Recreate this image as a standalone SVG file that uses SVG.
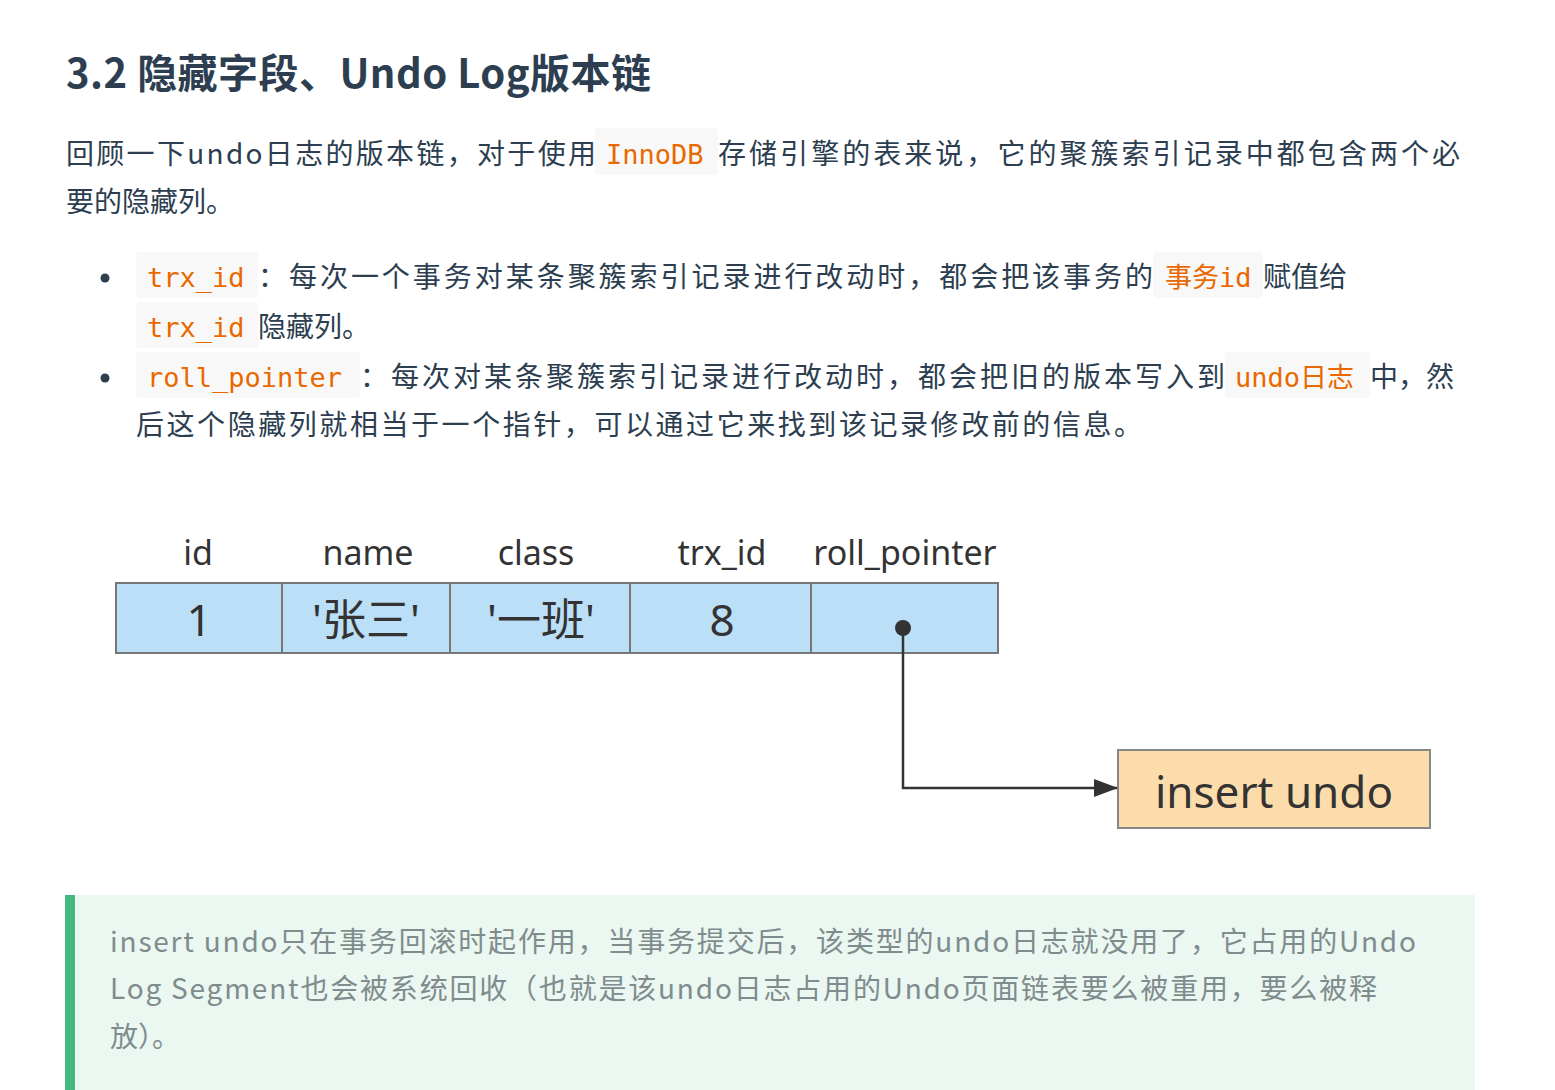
<svg xmlns="http://www.w3.org/2000/svg" width="1555" height="1090" viewBox="0 0 1555 1090">
<style>
.t{font-family:"Noto Sans CJK SC","Noto Sans",sans-serif;font-size:28px;fill:#2c3e50}
.h{font-family:"Noto Sans CJK SC","Noto Sans",sans-serif;font-size:40px;font-weight:bold;fill:#2c3e50}
.c{font-family:"DejaVu Sans Mono","Noto Sans CJK SC",monospace;font-size:27px;fill:#e96900}
.cb{fill:#f8f8f8}
.q{font-family:"Noto Sans CJK SC","Noto Sans",sans-serif;font-size:28px;fill:#7f8c8d}
.th{font-family:"Noto Sans","Noto Sans CJK SC",sans-serif;font-size:34px;fill:#333;text-anchor:middle}
.tv{font-family:"Noto Sans","Noto Sans CJK SC",sans-serif;font-size:44px;fill:#333;text-anchor:middle}
.cell{fill:#bcdff8;stroke:#777;stroke-width:2}
</style>
<defs><marker id="ah" markerWidth="24" markerHeight="20" refX="23" refY="10" orient="auto" markerUnits="userSpaceOnUse" viewBox="0 0 24 20"><path d="M0,1L24,10L0,19z" fill="#333"/></marker></defs>
<rect width="1555" height="1090" fill="#fff"/>
<text class="h" x="66" y="88" textLength="585">3.2 隐藏字段、Undo Log版本链</text>
<rect class="cb" x="595" y="128" width="123" height="47" rx="4"/>
<text class="t" x="66" y="164" textLength="530">回顾一下undo日志的版本链，对于使用</text>
<text class="c" x="606" y="164">InnoDB</text>
<text class="t" x="718" y="164" textLength="742">存储引擎的表来说，它的聚簇索引记录中都包含两个必</text>
<text class="t" x="66" y="212">要的隐藏列。</text>
<circle cx="105" cy="278" r="4.5" fill="#2c3e50"/>
<circle cx="105" cy="378" r="4.5" fill="#2c3e50"/>
<rect class="cb" x="136" y="252" width="122" height="46" rx="4"/>
<text class="c" x="147" y="287">trx_id</text>
<text class="t" x="258" y="287" textLength="895">：每次一个事务对某条聚簇索引记录进行改动时，都会把该事务的</text>
<rect class="cb" x="1153" y="252" width="110" height="46" rx="4"/>
<text class="c" x="1165" y="287">事务id</text>
<text class="t" x="1263" y="287">赋值给</text>
<rect class="cb" x="136" y="302" width="122" height="46" rx="4"/>
<text class="c" x="147" y="337">trx_id</text>
<text class="t" x="258" y="337">隐藏列。</text>
<rect class="cb" x="136" y="352" width="224" height="46" rx="4"/>
<text class="c" x="147" y="387">roll_pointer</text>
<text class="t" x="360" y="387" textLength="865">：每次对某条聚簇索引记录进行改动时，都会把旧的版本写入到</text>
<rect class="cb" x="1225" y="352" width="145" height="46" rx="4"/>
<text class="c" x="1235" y="387">undo日志</text>
<text class="t" x="1370" y="387">中，然</text>
<text class="t" x="136" y="435" textLength="1006">后这个隐藏列就相当于一个指针，可以通过它来找到该记录修改前的信息。</text>
<g id="headers">
<text class="th" x="198" y="565">id</text>
<text class="th" x="368" y="565">name</text>
<text class="th" x="536" y="565">class</text>
<text class="th" x="722" y="565">trx_id</text>
<text class="th" x="905" y="565">roll_pointer</text>
</g>
<g id="row">
<rect class="cell" x="116" y="583" width="166" height="70"/>
<rect class="cell" x="282" y="583" width="168" height="70"/>
<rect class="cell" x="450" y="583" width="180" height="70"/>
<rect class="cell" x="630" y="583" width="181" height="70"/>
<rect class="cell" x="811" y="583" width="187" height="70"/>
<text class="tv" x="199" y="636">1</text>
<text class="tv" x="366" y="636">'张三'</text>
<text class="tv" x="541" y="636">'一班'</text>
<text class="tv" x="722" y="636">8</text>
<circle cx="903" cy="628" r="8" fill="#333"/>
</g>
<g id="insert-undo">
<rect x="1118" y="750" width="312" height="78" fill="#fddcab" stroke="#888" stroke-width="2"/>
<text class="tv" x="1274" y="808">insert undo</text>
</g>
<g id="connectors">
<path d="M903,628V788H1117" fill="none" stroke="#333" stroke-width="2.5" marker-end="url(#ah)"/>
</g>
<rect x="65" y="895" width="1410" height="195" fill="#ebf7f1"/>
<rect x="65" y="895" width="10" height="195" fill="#42b983"/>
<text class="q" x="110" y="952" textLength="1306">insert undo只在事务回滚时起作用，当事务提交后，该类型的undo日志就没用了，它占用的Undo</text>
<text class="q" x="110" y="999" textLength="1267">Log Segment也会被系统回收（也就是该undo日志占用的Undo页面链表要么被重用，要么被释</text>
<text class="q" x="110" y="1047">放）。</text>
</svg>
